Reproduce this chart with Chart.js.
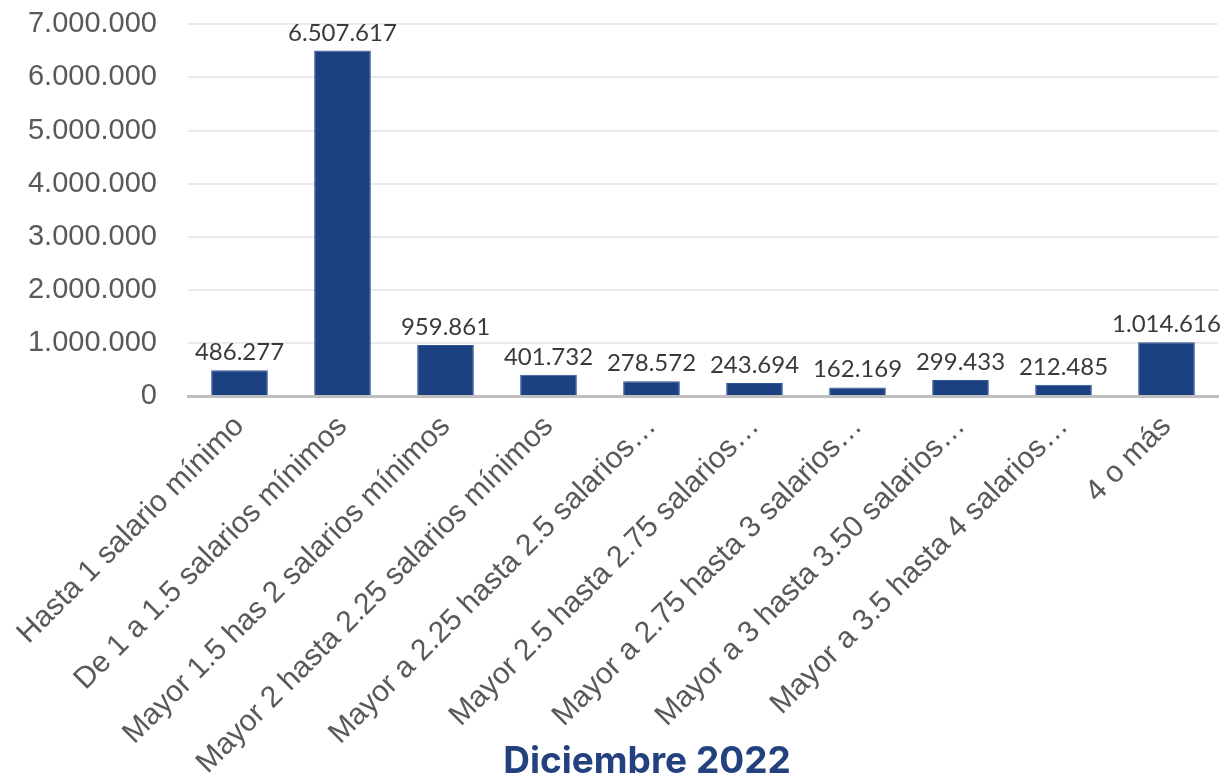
<!DOCTYPE html>
<html>
<head>
<meta charset="utf-8">
<script src="https://cdn.jsdelivr.net/npm/chart.js@4.4.1/dist/chart.umd.min.js"></script>
<style>
  body { margin: 0; background: #fff; overflow: hidden; }
  #wrap { position: relative; width: 1224px; height: 781px; overflow: hidden; }
  #salariosChart { position: absolute; left: 0; top: -24px; }
  #titulo {
    position: absolute; left: 447px; width: 400px; top: 738px;
    text-align: center; font-family: Inter, sans-serif; font-weight: 700;
    font-size: 37px; line-height: 44px; color: #23417e;
  }
</style>
</head>
<body>
<div id="wrap">
  <canvas id="salariosChart" width="1224" height="805"></canvas>
  <div id="titulo">Diciembre 2022</div>
</div>
<script>
  var categorias = [
    'Hasta 1 salario mínimo',
    'De 1 a 1.5 salarios mínimos',
    'Mayor 1.5 has 2 salarios mínimos',
    'Mayor 2 hasta 2.25 salarios mínimos',
    'Mayor a 2.25 hasta 2.5 salarios…',
    'Mayor 2.5 hasta 2.75 salarios…',
    'Mayor a 2.75 hasta 3 salarios…',
    'Mayor a 3 hasta 3.50 salarios…',
    'Mayor a 3.5 hasta 4 salarios…',
    '4 o más'
  ];
  var trabajadores = [486277, 6507617, 959861, 401732, 278572, 243694, 162169, 299433, 212485, 1014616];

  function puntos(n) {
    return String(Math.round(n)).replace(/\B(?=(\d{3})+(?!\d))/g, '.');
  }

  // etiquetas encima de cada barra
  var etiquetasBarras = {
    id: 'etiquetasBarras',
    afterDatasetsDraw: function (chart) {
      var ctx = chart.ctx;
      var meta = chart.getDatasetMeta(0);
      ctx.save();
      ctx.font = '24px Lato, sans-serif';
      ctx.fillStyle = '#3a3a3a';
      ctx.textAlign = 'center';
      ctx.textBaseline = 'alphabetic';
      meta.data.forEach(function (bar, i) {
        ctx.fillText(puntos(chart.data.datasets[0].data[i]), bar.x, bar.y - 10);
      });
      ctx.restore();
    }
  };

  new Chart(document.getElementById('salariosChart'), {
    type: 'bar',
    data: {
      labels: categorias,
      datasets: [{
        label: 'Diciembre 2022',
        data: trabajadores,
        backgroundColor: '#1c4180',
        borderColor: '#2e5597',
        borderWidth: 1,
        barPercentage: 0.55,
        categoryPercentage: 1
      }]
    },
    plugins: [etiquetasBarras],
    options: {
      responsive: false,
      animation: false,
      layout: { padding: { top: 2, right: 6, left: 0, bottom: 0 } },
      plugins: {
        legend: { display: false },
        tooltip: { enabled: false }
      },
      scales: {
        x: {
          afterFit: function (axis) { axis.height = 385; },
          grid: { display: false, drawTicks: false },
          border: { display: true, color: '#bfbfbf', width: 3 },
          ticks: {
            autoSkip: false,
            maxRotation: 45,
            minRotation: 45,
            padding: 13,
            color: '#595959',
            font: { family: 'Liberation Sans', size: 30 }
          }
        },
        y: {
          min: 0,
          max: 7000000,
          afterFit: function (axis) { axis.width = 188; },
          border: { display: false },
          grid: { color: '#ebebeb', lineWidth: 2, drawTicks: false },
          ticks: {
            stepSize: 1000000,
            padding: 31,
            color: '#595959',
            font: { family: 'Liberation Sans', size: 29 },
            callback: function (v) { return puntos(v); }
          }
        }
      }
    }
  });
</script>
</body>
</html>
